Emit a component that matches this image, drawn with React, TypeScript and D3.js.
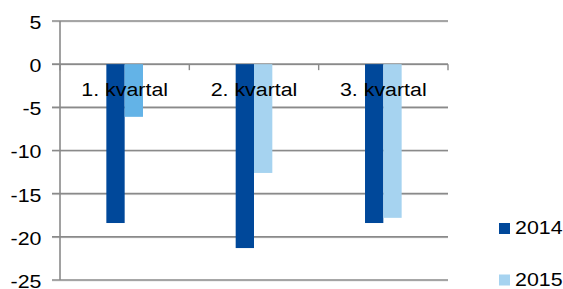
import { useMemo } from "react";
import * as d3 from "d3";

const WIDTH = 563;
const HEIGHT = 289;

const categories = ["1. kvartal", "2. kvartal", "3. kvartal"];
const seriesNames = ["2014", "2015"];
const values2014 = [-18.4, -21.3, -18.4];
const values2015 = [-6.1, -12.6, -17.8];
const yTicks = [5, 0, -5, -10, -15, -20, -25];

// the first 2015 bar is highlighted in a stronger blue in the source
const colors2014 = ["#00489a", "#00489a", "#00489a"];
const colors2015 = ["#63b3e7", "#a6d3f0", "#a6d3f0"];
const legendColors = ["#00489a", "#a6d3f0"];

const FONT = "'Liberation Sans', Arial, sans-serif";
const FS = 18.6;
const SX = 1.15; // text in the source is slightly stretched horizontally
const GRID = "#8a8a8a";

const Label = ({ x, y, anchor, children }) => (
  <g transform={`translate(${x},${y}) scale(${SX},1)`}>
    <text textAnchor={anchor} fontFamily={FONT} fontSize={FS} fill="#000">
      {children}
    </text>
  </g>
);

export default function App() {
  const y = useMemo(() => d3.scaleLinear().domain([-25, 5]).range([280, 21]), []);
  const x = useMemo(
    () => d3.scaleBand().domain(categories).range([60, 448]).padding(0),
    []
  );
  const inner = useMemo(
    () =>
      d3
        .scaleBand()
        .domain(seriesNames)
        .range([0, x.bandwidth()])
        .paddingInner(0)
        .paddingOuter(2.53),
    [x]
  );

  const series = [
    { name: "2014", values: values2014, colors: colors2014 },
    { name: "2015", values: values2015, colors: colors2015 },
  ];

  return (
    <svg
      width={WIDTH}
      height={HEIGHT}
      style={{ position: "absolute", left: 0, top: 0, background: "#fff" }}
    >
      {/* gridlines + y labels */}
      {yTicks.map((t) => (
        <g key={t}>
          <line
            x1={52}
            x2={448}
            y1={y(t) + 1}
            y2={y(t) + 1}
            stroke="#e4e4e4"
            strokeWidth={1}
          />
          <line x1={52} x2={448} y1={y(t)} y2={y(t)} stroke={GRID} strokeWidth={1.6} />
          <Label x={41.5} y={y(t) + 7.9} anchor="end">
            {t}
          </Label>
        </g>
      ))}
      <line x1={60} x2={60} y1={y(5)} y2={y(-25)} stroke={GRID} strokeWidth={1.6} />

      {/* category ticks on zero line */}
      {[...categories.map((c) => x(c)), 448].map((px, i) => (
        <line key={i} x1={px} x2={px} y1={y(0)} y2={y(0) + 6} stroke={GRID} strokeWidth={1.4} />
      ))}

      {/* bars */}
      {series.map((s) =>
        categories.map((c, i) => {
          const v = s.values[i];
          const bx = x(c) + inner(s.name);
          return (
            <rect
              key={s.name + c}
              x={bx}
              y={y(Math.max(0, v))}
              width={inner.bandwidth()}
              height={Math.abs(y(v) - y(0))}
              fill={s.colors[i]}
            />
          );
        })
      )}

      {/* category labels, drawn over the bars */}
      {categories.map((c) => (
        <Label key={c} x={x(c) + x.bandwidth() / 2} y={96} anchor="middle">
          {c}
        </Label>
      ))}

      {/* legend */}
      {seriesNames.map((n, i) => {
        const ly = i === 0 ? 223 : 274.5;
        return (
          <g key={n}>
            <rect x={499} y={ly} width={11} height={11} fill={legendColors[i]} />
            <Label x={515} y={ly + 11.4} anchor="start">
              {n}
            </Label>
          </g>
        );
      })}
    </svg>
  );
}
